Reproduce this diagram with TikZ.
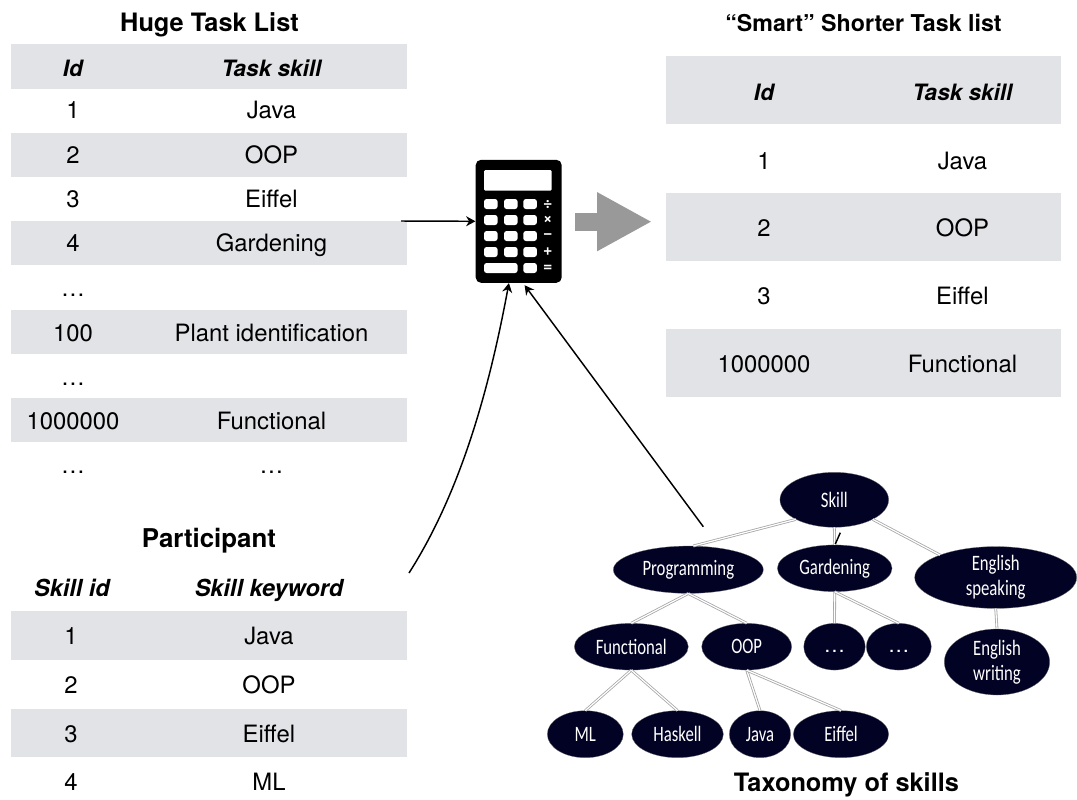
\documentclass[tikz,border=0pt]{standalone}
\usepackage{fontspec}
\setmainfont{TeX Gyre Heros}
\newfontfamily\skillfont[FakeStretch=0.76]{Carlito}
\definecolor{bandgrey}{RGB}{226,227,231}
\definecolor{skillnavy}{RGB}{2,2,36}
\definecolor{flowgrey}{RGB}{153,153,153}
\usetikzlibrary{arrows.meta}
\usetikzlibrary{shapes.geometric}
\newcommand{\sizedfont}[1]{\fontsize{#1}{#1}\selectfont}
\newcommand{\skilldots}{\normalfont\fontsize{16pt}{16pt}\selectfont\raisebox{-4.5pt}[0pt][0pt]{…}}
\tikzset{
    common/.style={anchor=base, inner sep=0pt},
    cell/.style={common, font=\sizedfont{17.9pt}},
    cellhead/.style={common, font=\sizedfont{16.9pt}\bfseries\itshape},
    cellheadwide/.style={common, font=\sizedfont{17.6pt}\bfseries\itshape},
    tabletitle/.style={common, font=\sizedfont{#1}\bfseries},
    band/.style={fill=bandgrey},
    skillnode/.style 2 args={ellipse, fill=skillnavy, draw=black!55, very thin, inner sep=0pt,
        minimum width=#1*0.75pt, minimum height=#2*0.75pt, text=white, align=center,
        font=\skillfont\fontsize{16.5pt}{18.5pt}\selectfont},
    link/.style={draw=black!35, double=white, double distance=0.9pt, line width=0.6pt},
    feed/.style={-{Stealth[length=7pt,width=7.5pt]}, line width=1.1pt, black},
    opsign/.style={white, inner sep=0pt, font=\sizedfont{12pt}\bfseries},
    bigarrow/.style={flowgrey, line width=13.5pt, -{Triangle[length=41.25pt,width=41.25pt]}}
}

\begin{document}
\begin{tikzpicture}[x=0.75pt,y=-0.75pt]
    \useasboundingbox (0,0) rectangle (1077,799);

    % huge task list
    \foreach \ytop/\ybot in {44/89, 133/177, 221/265, 310/354, 398/442}
        \fill[band] (11,\ytop) rectangle (407,\ybot);
    \node[tabletitle=19pt] (hugeT) at (209.5,32) {Huge Task List};
    \node[cellhead] (hugeHa) at (73,76) {Id};
    \node[cellhead] (hugeHb) at (271.5,76) {Task skill};
    \foreach \ypos/\idtxt/\skilltxt [count=\n] in {118/1/Java, 163/2/OOP, 207/3/Eiffel, 251/4/Gardening, 341/100/Plant identification, 429/1000000/Functional} {
        \node[cell] (hugeA\n) at (73,\ypos) {\idtxt};
        \node[cell] (hugeB\n) at (271.5,\ypos) {\skilltxt};
    }
    \node[cell] (hugeDa) at (73,296) {…};
    \node[cell] (hugeDb) at (73,385) {…};
    \node[cell] (hugeDc) at (73,473) {…};
    \node[cell] (hugeDd) at (271.5,473) {…};

    % participant
    \foreach \ytop/\ybot in {611/660, 709/757}
        \fill[band] (11,\ytop) rectangle (407,\ybot);
    \node[tabletitle=19.4pt] (partT) at (209,547) {Participant};
    \node[cellheadwide] (partHa) at (72,596) {Skill id};
    \node[cellheadwide] (partHb) at (269,596) {Skill keyword};
    \foreach \ypos/\idtxt/\skilltxt [count=\n] in {644/1/Java, 693/2/OOP, 742/3/Eiffel, 790/4/ML} {
        \node[cell] (partA\n) at (71,\ypos) {\idtxt};
        \node[cell] (partB\n) at (269,\ypos) {\skilltxt};
    }

    % shorter list
    \foreach \ytop/\ybot in {56/124, 193/261, 329/397}
        \fill[band] (666,\ytop) rectangle (1061,\ybot);
    \node[tabletitle=17.4pt] (shortT) at (863.5,32) {“Smart” Shorter Task list};
    \node[cellhead] (shortHa) at (764,100) {Id};
    \node[cellhead] (shortHb) at (962.5,100) {Task skill};
    \foreach \ypos/\idtxt/\skilltxt [count=\n] in {169/1/Java, 236/2/OOP, 304/3/Eiffel, 372/1000000/Functional} {
        \node[cell] (shortA\n) at (764,\ypos) {\idtxt};
        \node[cell] (shortB\n) at (962.5,\ypos) {\skilltxt};
    }

    % calculator
    \node[fill=black, rounded corners=4pt, inner sep=0pt, minimum width=86*0.75pt, minimum height=123*0.75pt] (calculator) at (518.7,221.3) {};
    \fill[white, rounded corners=1pt] (484,170) rectangle (551.7,190.7);
    \foreach \ytop in {199,215,231,247}
        \foreach \xleft in {484,504,523.3}
            \fill[white, rounded corners=2pt] (\xleft,\ytop) rectangle (\xleft+13.6,\ytop+10);
    \fill[white, rounded corners=2pt] (484,263) rectangle (517.6,273);
    \fill[white, rounded corners=2pt] (523.3,263) rectangle (536.9,273);
    \foreach \ypos/\sign [count=\n] in {204/÷, 220/×, 236/−, 252/+, 268/=}
        \node[opsign] (sign\n) at (547.7,\ypos) {\sign};

    \coordinate (flowA) at (575,221.7);
    \coordinate (flowB) at (652,221.7);
    \draw[bigarrow] (flowA) -- (flowB);

    % taxonomy
    \node[skillnode={108.7}{55}] (skill) at (834.3,499.8) {Skill};
    \node[skillnode={150}{47.3}] (programming) at (688.3,569.7) {Programming};
    \node[skillnode={114.7}{46.7}] (gardening) at (834.7,568.3) {Gardening};
    \node[skillnode={162}{61.7}] (speaking) at (995.7,577.5) {English\\speaking};
    \node[skillnode={114}{46.7}] (functional) at (631.3,646.7) {Functional};
    \node[skillnode={90}{46.7}] (oop) at (746.7,646.7) {OOP};
    \node[skillnode={61.5}{46.7}] (dotsA) at (834.5,646.7) {\skilldots};
    \node[skillnode={65}{46.7}] (dotsB) at (898.8,646.7) {\skilldots};
    \node[skillnode={105.4}{66}] (writing) at (997,662) {English\\writing};
    \node[skillnode={76}{47}] (ml) at (585.3,734.2) {ML};
    \node[skillnode={91.7}{47}] (haskell) at (677.5,734.2) {Haskell};
    \node[skillnode={61.4}{47}] (java) at (760,734.2) {Java};
    \node[skillnode={95.4}{47}] (eiffel) at (841,734.2) {Eiffel};
    \node[tabletitle=19pt] (taxT) at (846.4,791.7) {Taxonomy of skills};

    \draw[link] (skill.207) -- (programming.78);
    \draw[link] (skill.south) -- (gardening.north);
    \draw[link] (skill.-27) -- (speaking.158);
    \draw[link] (programming.south) -- (functional.north);
    \draw[link] (programming.south) -- (oop.north);
    \draw[link] (gardening.south) -- (dotsA.north);
    \draw[link] (gardening.south) -- (dotsB.north);
    \draw[link] (speaking.south) -- (writing.north);
    \draw[link] (functional.south) -- (ml.north);
    \draw[link] (functional.south) -- (haskell.north);
    \draw[link] (oop.south) -- (java.north);
    \draw[link] (oop.south) -- (eiffel.north);

    % arrows into the calculator
    \coordinate (feedA) at (401,221);
    \coordinate (feedB) at (409,573);
    \coordinate (feedC) at (703.3,526.7);
    \coordinate (stubA) at (835.3,544);
    \coordinate (stubB) at (840.3,532.7);
    \draw[feed] (feedA) -- (calculator.west);
    \draw[feed] (feedB) .. controls (462,490) and (490,385) .. (calculator.261);
    \draw[feed, shorten >=2pt] (feedC) -- (calculator.274);
    \draw[line width=1.1pt] (stubA) -- (stubB);
\end{tikzpicture}
\end{document}
